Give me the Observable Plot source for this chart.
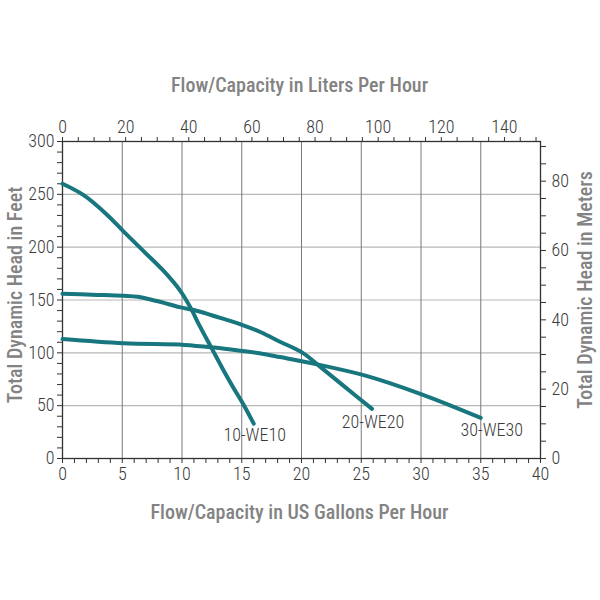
<!DOCTYPE html>
<html>
<head>
<meta charset="utf-8">
<script src="https://cdn.jsdelivr.net/npm/d3@7"></script>
<script src="https://cdn.jsdelivr.net/npm/@observablehq/plot@0.6"></script>
<style>
  html, body { margin: 0; padding: 0; background: #fff; }
  #chart { width: 600px; height: 600px; }
</style>
</head>
<body>
<div id="chart"></div>
<script>
// Pump curves: flow in US gallons per hour vs total dynamic head in feet
const we10Gph = [0, 1.8, 3.7, 5.1, 6.8, 8.5, 9.9, 10.7, 11.5, 12.5, 13.4, 14.3, 15.2, 16.0];
const we10Ft  = [260, 249, 231, 215, 196, 177, 158, 143, 125, 104, 85, 67, 50, 33];

const we20Gph = [0, 2.5, 5.1, 6.3, 7.9, 9.9, 11.3, 13.2, 14.9, 16.6, 18.2, 20.1, 21.6, 23.5, 25.9];
const we20Ft  = [156, 155, 154, 153, 149, 143, 139.6, 133, 127, 119.5, 110.5, 100, 86.5, 69, 47];

const we30Gph = [0, 5.1, 10.2, 12.7, 14.9, 16.6, 18.2, 21.6, 25.5, 30, 35];
const we30Ft  = [113, 109, 107.5, 105, 102, 99.4, 96, 88.4, 78, 61, 38.5];

const seriesNames = ["10-WE10", "20-WE20", "30-WE30"];

// Axis ticks
const gphTicks = d3.range(0, 41, 1);          // bottom: every 1 gal, labels every 5
const gphGrid = [5, 10, 15, 20, 25, 30, 35];
const literTicks = d3.range(0, 151, 5);       // top: every 5 L, labels every 20
const feetTicks = d3.range(0, 301, 10);       // left: every 10 ft, labels every 50
const feetGrid = [50, 100, 150, 200, 250];
const meterTicks = d3.range(0, 91, 5);        // right: every 5 m, labels every 20

const L_PER_GAL = 3.78541;
const FT_PER_M = 3.28084;

const titleTop = "Flow/Capacity in Liters Per Hour";
const titleBottom = "Flow/Capacity in US Gallons Per Hour";
const titleLeft = "Total Dynamic Head in Feet";
const titleRight = "Total Dynamic Head in Meters";

const toRows = (g, f, name) => g.map((x, i) => ({gph: x, ft: f[i], name}));
const rows = [
  ...toRows(we10Gph, we10Ft, seriesNames[0]),
  ...toRows(we20Gph, we20Ft, seriesNames[1]),
  ...toRows(we30Gph, we30Ft, seriesNames[2])
];
const lastOf = (name) => rows.filter(d => d.name === name).slice(-1);

const FONT = "'Roboto Condensed', Roboto, sans-serif";
const LINE = "#17767e";
const TICKC = "#3a3a3a";
const TITLEC = "#838383";
const TFS = 20;   // title font size
const LFS = 18;   // tick/label font size

const chart = Plot.plot({
  width: 600,
  height: 600,
  marginLeft: 62,
  marginRight: 60,
  marginTop: 141,
  marginBottom: 142,
  style: {fontFamily: FONT, fontSize: LFS + "px", color: TICKC, background: "#fff"},
  x: {domain: [0, 40]},
  y: {domain: [0, 300]},
  marks: [
    Plot.gridY(feetGrid, {stroke: "#b8b8b8", strokeOpacity: 1, strokeWidth: 1.2}),
    Plot.gridX(gphGrid, {stroke: "#7a7a7a", strokeOpacity: 1, strokeWidth: 1}),
    Plot.frame({stroke: "#333", strokeWidth: 1.3}),
    Plot.axisX({anchor: "bottom", ticks: gphTicks, tickFormat: d => d % 5 === 0 ? d : "",
      tickSize: 5, tickPadding: 4, label: null, stroke: "#333", fill: TICKC, fontWeight: 300}),
    Plot.axisX({anchor: "top", ticks: literTicks.map(l => l / L_PER_GAL),
      tickFormat: d => { const l = Math.round(d * L_PER_GAL); return l % 20 === 0 ? l : ""; },
      tickSize: 5, tickPadding: 4, label: null, stroke: "#333", fill: TICKC, fontWeight: 300}),
    Plot.axisY({anchor: "left", ticks: feetTicks, tickFormat: d => d % 50 === 0 ? d : "",
      tickSize: 5, tickPadding: 3, label: null, stroke: "#333", fill: TICKC, fontWeight: 300}),
    Plot.axisY({anchor: "right", ticks: meterTicks.map(m => m * FT_PER_M),
      tickFormat: d => { const m = Math.round(d / FT_PER_M); return m % 20 === 0 ? m : ""; },
      tickSize: 5, tickPadding: 6, label: null, stroke: "#333", fill: TICKC, fontWeight: 300}),
    Plot.line(rows, {x: "gph", y: "ft", z: "name", stroke: LINE, strokeWidth: 4,
      curve: "catmull-rom", strokeLinecap: "round", strokeLinejoin: "round"}),
    Plot.text(lastOf(seriesNames[0]), {x: "gph", y: "ft", text: "name", dx: 1, dy: 12, fontSize: LFS, fontWeight: 300, fill: TICKC, lineAnchor: "middle"}),
    Plot.text(lastOf(seriesNames[1]), {x: "gph", y: "ft", text: "name", dx: 1, dy: 13, fontSize: LFS, fontWeight: 300, fill: TICKC, lineAnchor: "middle"}),
    Plot.text(lastOf(seriesNames[2]), {x: "gph", y: "ft", text: "name", dx: 11, dy: 12, fontSize: LFS, fontWeight: 300, fill: TICKC, lineAnchor: "middle"}),
    Plot.text([titleTop], {text: d => d, frameAnchor: "top", textAnchor: "middle", dx: -2, dy: -56, fontSize: TFS, fontWeight: 500, fill: TITLEC, lineAnchor: "middle"}),
    Plot.text([titleBottom], {text: d => d, frameAnchor: "bottom", textAnchor: "middle", dx: -2, dy: 54, fontSize: TFS, fontWeight: 500, fill: TITLEC, lineAnchor: "middle"}),
    Plot.text([titleLeft], {text: d => d, frameAnchor: "left", textAnchor: "middle", rotate: -90, dx: -47, dy: -5, fontSize: TFS, fontWeight: 500, fill: TITLEC, lineAnchor: "middle"}),
    Plot.text([titleRight], {text: d => d, frameAnchor: "right", textAnchor: "middle", rotate: -90, dx: 45, dy: -10, fontSize: TFS, fontWeight: 500, fill: TITLEC, lineAnchor: "middle"})
  ]
});
document.getElementById("chart").appendChild(chart);
</script>
</body>
</html>
